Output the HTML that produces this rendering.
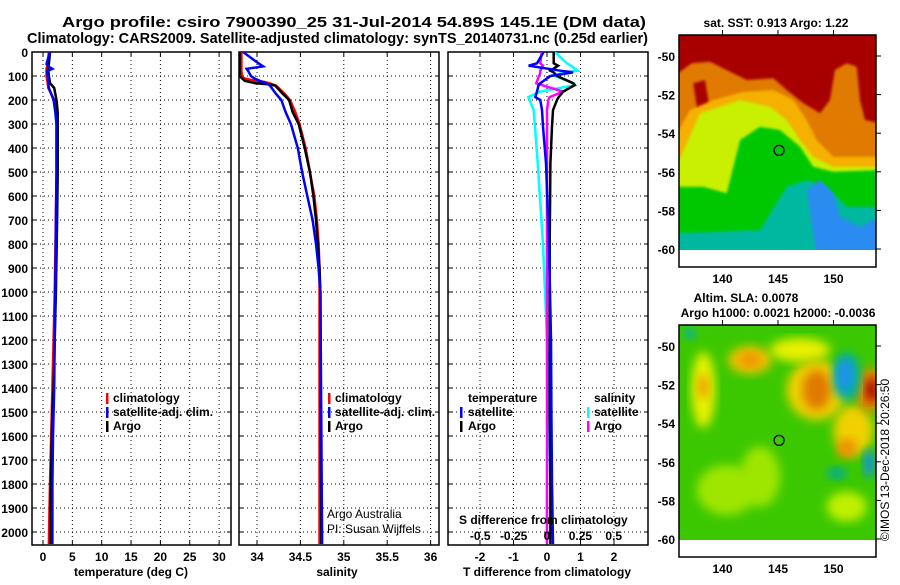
<!DOCTYPE html>
<html><head><meta charset="utf-8"><style>
html,body{margin:0;padding:0;background:#fff;}
svg text{font-family:"Liberation Sans",sans-serif;}
.b{font-weight:bold;}
</style></head><body>
<svg id="fig" width="900" height="580" viewBox="0 0 900 580" xmlns="http://www.w3.org/2000/svg">
<defs>
<clipPath id="c1"><rect x="32" y="52" width="199" height="493"/></clipPath>
<clipPath id="c2"><rect x="239" y="52" width="200" height="493"/></clipPath>
<clipPath id="c3"><rect x="448" y="52" width="200" height="493"/></clipPath>
<clipPath id="cm1"><rect x="679" y="35" width="197" height="215"/></clipPath>
<clipPath id="cm2"><rect x="679" y="325" width="197" height="215"/></clipPath>
<filter id="bl" x="-20%" y="-20%" width="140%" height="140%"><feGaussianBlur stdDeviation="5"/></filter>
<filter id="bl2" x="-20%" y="-20%" width="140%" height="140%"><feGaussianBlur stdDeviation="1.2"/></filter>
</defs>
<text class="b" x="62" y="27" font-size="15" textLength="584" lengthAdjust="spacingAndGlyphs">Argo profile: csiro 7900390_25 31-Jul-2014 54.89S 145.1E (DM data)</text>
<text class="b" x="27" y="43" font-size="15" textLength="621" lengthAdjust="spacingAndGlyphs">Climatology: CARS2009. Satellite-adjusted climatology: synTS_20140731.nc (0.25d earlier)</text>
<g id="grids"></g>
<g id="series"></g>
<g id="maps"></g>
<g id="labels"></g>
</svg>
<script>
// ---------- data ----------
const depthTicks = [0,100,200,300,400,500,600,700,800,900,1000,1100,1200,1300,1400,1500,1600,1700,1800,1900,2000];
const tempTicks = [0,5,10,15,20,25,30];
const salTicks = [34,34.5,35,35.5,36];
const salTickLabels = ["34","34.5","35","35.5","36"];
const tdiffTicks = [-2,-1,0,1,2];
const sdiffTicks = [-0.5,-0.25,0,0.25,0.5];
const sdiffTickLabels = ["-0.5","-0.25","0","0.25","0.5"];

const tDepth = [0,50,60,70,80,100,130,150,200,250,300,500,700,1000,1200,1400,1500,1600,1800,1900,2050];
const tArgo  = [1.2,1.0,0.9,0.85,0.9,1.0,1.2,1.9,2.3,2.5,2.5,2.5,2.4,2.2,2.0,1.8,1.6,1.5,1.35,1.3,1.3];
const tClim  = [1.0,0.8,0.7,0.6,0.6,0.6,0.8,0.9,1.9,2.2,2.3,2.3,2.2,2.0,1.8,1.6,1.5,1.4,1.2,1.1,1.0];
const tSat   = [1.2,0.6,0.9,1.6,0.7,0.8,0.9,1.0,1.8,2.1,2.3,2.3,2.2,2.1,2.0,1.9,1.8,1.7,1.6,1.6,1.6];

const sDepth = [0,40,60,70,80,100,110,120,125,130,135,140,175,200,250,300,400,500,600,700,800,900,1000,2050];
const sArgo  = [33.80,33.80,33.80,33.80,33.80,33.80,33.83,33.86,33.92,33.98,34.15,34.21,34.30,34.37,34.41,34.48,34.55,34.61,34.65,34.68,34.70,34.72,34.73,34.74];
const sClim  = [33.82,33.82,33.82,33.82,33.82,33.83,33.85,33.98,34.09,34.14,34.18,34.22,34.32,34.38,34.44,34.49,34.56,34.61,34.66,34.69,34.71,34.72,34.72,34.72];
const sSat   = [33.84,33.99,34.07,33.88,33.90,33.93,33.97,34.03,34.07,34.10,34.13,34.15,34.22,34.28,34.33,34.39,34.47,34.52,34.58,34.64,34.68,34.71,34.73,34.75];

const dDepth   = [0,47,57,78,85,100,130,138,165,188,200,242,311,463,800,1200,1500,1800,2050];
const dTArgo   = [0.2,0.2,0.33,0.1,0.2,0.3,0.78,0.83,0.48,0.35,0.3,0.18,0.15,0.1,0.08,0.08,0.08,0.1,0.1];
const dTSat    = [-0.1,-0.3,-0.55,0.4,0.78,0.1,-0.2,-0.25,-0.3,-0.35,-0.2,-0.15,-0.12,-0.03,0.06,0.12,0.13,0.15,0.18];
const dSSat    = [0.06,0.15,0.18,0.23,0.12,0.06,0.2,0.21,-0.05,-0.14,-0.13,-0.1,-0.09,-0.07,-0.03,0.0,0.01,0.0,0.0];
const dSArgo   = [-0.04,-0.05,-0.03,-0.05,-0.05,-0.06,-0.08,-0.04,0.12,0.02,0.01,0.0,0.0,0.0,0.0,0.0,0.0,0.0,0.0];

// ---------- scales ----------
const yD = d => 52 + 0.24*d;
const xT = t => 43 + 5.87*t;
const xS = s => 257 + 86.8*(s-34);
const xTD = v => 547 + 33.5*v;
const xSD = v => 547 + 133.5*v;
const NS = "http://www.w3.org/2000/svg";
function mk(tag, attrs, parent){ const e=document.createElementNS(NS,tag); for(const k in attrs) e.setAttribute(k,attrs[k]); parent.appendChild(e); return e; }
const G = document.getElementById('grids'), S = document.getElementById('series'), L = document.getElementById('labels');

const panels = [
  {x:32,w:199,name:'temperature-panel'},
  {x:239,w:200,name:'salinity-panel'},
  {x:448,w:200,name:'difference-panel'}
];
panels.forEach(p=>{
  depthTicks.forEach(d=>{ if(d>0){
    const l=mk('line',{x1:p.x,x2:p.x+p.w,y1:yD(d),y2:yD(d),stroke:'#000','stroke-width':1,'stroke-dasharray':'1,3'},G);
    
    
    mk('line',{x1:p.x,x2:p.x+4,y1:yD(d),y2:yD(d),stroke:'#000'},G);
    mk('line',{x1:p.x+p.w-4,x2:p.x+p.w,y1:yD(d),y2:yD(d),stroke:'#000'},G);
  }});
});
function vgrid(xs, x0,x1){ xs.forEach(x=>{ if(x>x0+1&&x<x1-1){
  const l=mk('line',{x1:x,x2:x,y1:52,y2:545,stroke:'#000','stroke-dasharray':'1,3'},G);
  
  
  mk('line',{x1:x,x2:x,y1:541,y2:545,stroke:'#000'},G);
  mk('line',{x1:x,x2:x,y1:52,y2:56,stroke:'#000'},G);
}});}
vgrid(tempTicks.map(xT),32,231);
vgrid(salTicks.map(xS),239,439);
vgrid(tdiffTicks.map(xTD),448,648);
panels.forEach(p=>{
  const r=mk('rect',{x:p.x,y:52,width:p.w,height:493,fill:'none',stroke:'#000','stroke-width':1.5},G);
  
  
});

function line(dep, vals, xf, color, clip, name){
  const pts = dep.map((d,i)=>xf(vals[i]).toFixed(1)+','+yD(d).toFixed(1)).join(' ');
  const e=mk('polyline',{points:pts,fill:'none',stroke:color,'stroke-width':2.5,'clip-path':'url(#'+clip+')'},S);
  
  
}
line(tDepth,tClim,xT,'#ff0000','c1','temperature-climatology-line');
line(tDepth,tArgo,xT,'#000000','c1','temperature-argo-line');
line(tDepth,tSat,xT,'#0000ff','c1','temperature-satellite-line');
line(sDepth,sClim,xS,'#ff0000','c2','salinity-climatology-line');
line(sDepth,sArgo,xS,'#000000','c2','salinity-argo-line');
line(sDepth,sSat,xS,'#0000ff','c2','salinity-satellite-line');
line(dDepth,dSSat,xSD,'#00ffff','c3','s-diff-satellite-line');
line(dDepth,dSArgo,xSD,'#ff00ff','c3','s-diff-argo-line');
line(dDepth,dTArgo,xTD,'#000000','c3','t-diff-argo-line');
line(dDepth,dTSat,xTD,'#0000ff','c3','t-diff-satellite-line');

function txt(x,y,s,opts,name){
  const e=mk('text',Object.assign({x:x,y:y,'font-size':12,'font-weight':'bold'},opts||{}),L);
  e.textContent=s;
  
  
  return e;
}
depthTicks.forEach(d=>txt(28,yD(d)+5,String(d),{'text-anchor':'end'},'depth-tick-label'));
tempTicks.forEach(t=>txt(xT(t),561,String(t),{'text-anchor':'middle'},'temperature-tick-label'));
salTicks.forEach((s,i)=>txt(xS(s),561,salTickLabels[i],{'text-anchor':'middle'},'salinity-tick-label'));
tdiffTicks.forEach(t=>txt(xTD(t),561,String(t),{'text-anchor':'middle'},'t-diff-tick-label'));
sdiffTicks.forEach((s,i)=>txt(xSD(s),540,sdiffTickLabels[i],{'text-anchor':'middle'},'s-diff-tick-label'));
txt(131,576,'temperature (deg C)',{'text-anchor':'middle'},'x-axis-title-temperature');
txt(337,576,'salinity',{'text-anchor':'middle'},'x-axis-title-salinity');
txt(547,576,'T difference from climatology',{'text-anchor':'middle'},'x-axis-title-t-diff');
txt(459,524,'S difference from climatology',{},'s-diff-axis-title');

function leg(mx,tx,y,color,label,name){
  const m=mk('rect',{x:mx,y:y-9,width:2.5,height:11,fill:color},L);
  
  
  txt(tx,y,label,{},name);
}
leg(106,113,402,'#ff0000','climatology','legend-temp-climatology');
leg(106,113,416,'#0000ff','satellite-adj. clim.','legend-temp-satellite');
leg(106,113,430,'#000000','Argo','legend-temp-argo');
leg(328,335,402,'#ff0000','climatology','legend-sal-climatology');
leg(328,335,416,'#0000ff','satellite-adj. clim.','legend-sal-satellite');
leg(328,335,430,'#000000','Argo','legend-sal-argo');
txt(468,402,'temperature',{},'legend-temperature-heading');
leg(460,468,416,'#0000ff','satellite','legend-tdiff-satellite');
leg(460,468,430,'#000000','Argo','legend-tdiff-argo');
txt(594,402,'salinity',{},'legend-salinity-heading');
leg(587,594,416,'#00ffff','satellite','legend-sdiff-satellite');
leg(587,594,430,'#ff00ff','Argo','legend-sdiff-argo');
txt(327,518,'Argo Australia',{'font-weight':'normal'},'credit-argo-australia');
txt(327,533,'PI: Susan Wijffels',{'font-weight':'normal'},'credit-pi');

// ---------- maps ----------
const M = document.getElementById('maps');
const mx = zx => 660 + zx/3;
function poly(par, pts, y0, fill, name, filt){
  const p = pts.map(q=>mx(q[0]).toFixed(1)+','+(y0+q[1]/3).toFixed(1)).join(' ');
  const e=mk('polygon',{points:p,fill:fill},par);
  if(filt) e.setAttribute('filter',filt);
  
  
}
// SST map
const g1 = mk('g',{'clip-path':'url(#cm1)'},M);


mk('rect',{x:679,y:35,width:197,height:215,fill:'#a80000'},g1);
const f1='url(#bl2)';
poly(g1,[[40,230],[95,190],[150,185],[210,215],[260,240],[340,235],[380,270],[430,310],[480,340],[510,300],[525,210],[560,190],[590,200],[600,300],[615,360],[660,370],[660,770],[40,770]],0,'#e07a00','sst-orange',f1);
poly(g1,[[100,250],[135,240],[150,330],[112,330]],0,'#a80000','sst-red-lobe',f1);
poly(g1,[[40,420],[90,330],[160,300],[250,275],[340,270],[400,300],[440,360],[470,420],[520,470],[660,470],[660,770],[40,770]],0,'#f5b000','sst-yellow-orange',f1);
poly(g1,[[40,520],[120,340],[240,300],[330,320],[380,360],[420,420],[460,470],[520,500],[660,500],[660,770],[40,770]],0,'#c8f000','sst-yellow-green',f1);
poly(g1,[[40,560],[130,560],[200,580],[240,420],[300,380],[360,390],[420,440],[460,500],[520,515],[660,510],[660,770],[40,770]],0,'#00c800','sst-green',f1);
poly(g1,[[40,700],[300,690],[380,560],[440,540],[500,560],[560,620],[660,620],[660,770],[40,770]],0,'#00b8a0','sst-teal',f1);
poly(g1,[[440,570],[480,540],[520,580],[540,650],[600,680],[660,650],[660,770],[470,770]],0,'#2a8cf0','sst-blue',f1);
mk('rect',{x:679,y:250,width:197,height:17,fill:'#fff'},M);
// SLA map
const g2 = mk('g',{'clip-path':'url(#cm2)'},M);


mk('rect',{x:679,y:325,width:197,height:215,fill:'#3cc800'},g2);
function blob(par,zx,zy,rx,ry,fill,name){
  const e=mk('ellipse',{cx:mx(zx),cy:290+zy/3,rx:rx,ry:ry,fill:fill,filter:'url(#bl)'},par);
  
  
}
blob(g2,200,600,30,25,'#9ee600','sla-light-1'); blob(g2,300,560,20,30,'#9ee600','sla-light-2');
blob(g2,130,300,12,38,'#e8f000','sla-yellow-1'); blob(g2,270,210,22,14,'#f0c000','sla-yellow-2');
blob(g2,270,210,10,7,'#f09000','sla-orange-1'); blob(g2,130,290,6,12,'#f0a000','sla-orange-2');
blob(g2,420,180,30,12,'#e8f000','sla-yellow-3');
blob(g2,470,300,30,30,'#f0d000','sla-yellow-4'); blob(g2,470,300,14,20,'#e07800','sla-orange-3');
blob(g2,580,420,20,25,'#f0d000','sla-yellow-5'); blob(g2,560,475,10,10,'#f09000','sla-orange-4');
blob(g2,630,300,14,22,'#f08000','sla-orange-5'); blob(g2,635,300,6,12,'#a00000','sla-red');
blob(g2,560,260,14,24,'#00b0a0','sla-teal-1'); blob(g2,555,255,8,16,'#2090f0','sla-blue-1');
blob(g2,628,520,6,14,'#1090e0','sla-blue-2'); blob(g2,530,550,10,6,'#00a8a0','sla-teal-2');
blob(g2,90,130,6,6,'#00b0b0','sla-teal-3'); blob(g2,560,650,20,15,'#c0f000','sla-light-3');
mk('rect',{x:679,y:540,width:197,height:17,fill:'#fff'},M);

const lonTicks=[140,145,150];
const lonX = lon => 778 + 11.1*(lon-145);
const latTicks=[-50,-52,-54,-56,-58,-60];
[[35,267,56,'sst'],[325,557,346,'sla']].forEach(m=>{
  const [t,b,y50,nm]=m;
  const fr=mk('rect',{x:679,y:t,width:197,height:b-t,fill:'none',stroke:'#000','stroke-width':1.5},M);
  
  
  const yLat = la => y50 + 19.3*(-50-la);
  latTicks.forEach(la=>{
    mk('line',{x1:876,x2:881,y1:yLat(la),y2:yLat(la),stroke:'#000'},M);
    txt(675,yLat(la)+5,String(la),{'text-anchor':'end'},nm+'-lat-tick-label');
  });
  lonTicks.forEach(lo=>{
    mk('line',{x1:lonX(lo),x2:lonX(lo),y1:t-5,y2:t,stroke:'#000'},M);
    txt(lonX(lo),b+16,String(lo),{'text-anchor':'middle'},nm+'-lon-tick-label');
  });
  const c=mk('circle',{cx:lonX(145.1),cy:yLat(-54.89),r:5,fill:'none',stroke:'#000','stroke-width':1.2},M);
  
  
});
txt(776,27,'sat. SST: 0.913 Argo: 1.22',{'text-anchor':'middle'},'sst-map-title');
txt(746,302,'Altim. SLA: 0.0078',{'text-anchor':'middle'},'sla-map-title');
txt(778,317,'Argo h1000: 0.0021 h2000: -0.0036',{'text-anchor':'middle'},'sla-map-subtitle');
txt(889,460,'©IMOS 13-Dec-2018 20:26:50',{'text-anchor':'middle','font-weight':'normal',transform:'rotate(-90 889 460)'},'copyright-text');
</script>
</body></html>
